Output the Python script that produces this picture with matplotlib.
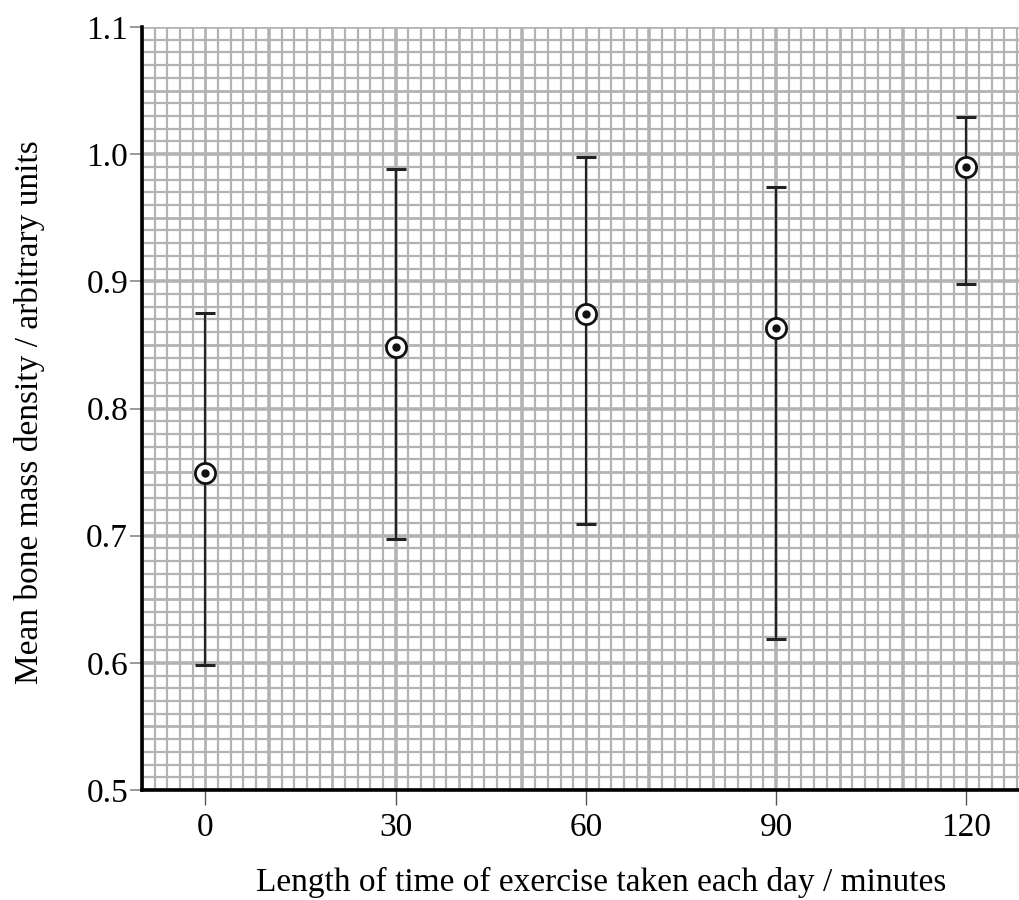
import numpy as np
import matplotlib
matplotlib.use("Agg")
import matplotlib.pyplot as plt

# data
minutes = [0, 30, 60, 90, 120]
mean_density = [0.749, 0.848, 0.874, 0.863, 0.990]
upper = [0.875, 0.988, 0.998, 0.974, 1.029]
lower = [0.598, 0.697, 0.709, 0.619, 0.898]
xticks = [0, 30, 60, 90, 120]
yticks = [0.5, 0.6, 0.7, 0.8, 0.9, 1.0, 1.1]

plt.rcParams['font.family'] = ['Liberation Serif', 'DejaVu Serif']

fig = plt.figure(figsize=(10.19, 9.0), dpi=100)
ax = fig.add_axes([142/1019, 110/900, 1 - 142/1019, (790-27)/900])
xmin, xmax = -10, 128.3
ymin, ymax = 0.5, 1.1
ax.set_xlim(xmin, xmax)
ax.set_ylim(ymin, ymax)

grid_c = '#b3b3b3'
# graph paper: minor every 2 min / 0.01; medium every 10 min / 0.05; thick every 20 min / 0.1
for xv in np.arange(-10, 129, 2):
    k = int(round((xv + 10) / 2))
    lw = 2.6 if k % 10 == 0 else (2.0 if k % 5 == 0 else 1.6)
    ax.axvline(xv, color=grid_c, lw=lw, zorder=0)
for i in range(61):
    yv = 0.5 + i * 0.01
    lw = 2.6 if i % 10 == 0 else (2.0 if i % 5 == 0 else 1.6)
    ax.axhline(yv, color=grid_c, lw=lw, zorder=0)

x = np.array(minutes)
m = np.array(mean_density)
yerr = [m - np.array(lower), np.array(upper) - m]
ax.errorbar(x, m, yerr=yerr, fmt='none', ecolor='#222222', elinewidth=1.6,
            capsize=7, capthick=2.2, zorder=3)
ax.plot(x, m, 'o', ms=14.5, mfc='white', mec='#111111', mew=2.0, zorder=4)
ax.plot(x, m, 'o', ms=5, mfc='#111111', mec='#111111', zorder=5)

for s in ['top', 'right']:
    ax.spines[s].set_visible(False)
for s in ['left', 'bottom']:
    ax.spines[s].set_linewidth(2.6)
    ax.spines[s].set_color('black')
    ax.spines[s].set_zorder(6)

ax.set_xticks(xticks)
ax.set_xticklabels([str(t) for t in xticks])
ax.set_yticks(yticks)
ax.set_yticklabels([f"{t:.1f}" for t in yticks])
ax.tick_params(axis='x', length=11, width=1.0, color='#555555', labelsize=24, pad=5)
ax.tick_params(axis='y', length=9, width=1.2, color='#888888', labelsize=24, pad=1)

fig.text(601/1019, 1 - 882/900, 'Length of time of exercise taken each day / minutes',
         ha='center', va='center', fontsize=24)
fig.text(30/1019, 1 - 412/900, 'Mean bone mass density / arbitrary units',
         ha='center', va='center', rotation=90, fontsize=24)

fig.savefig('out.png', dpi=100)
